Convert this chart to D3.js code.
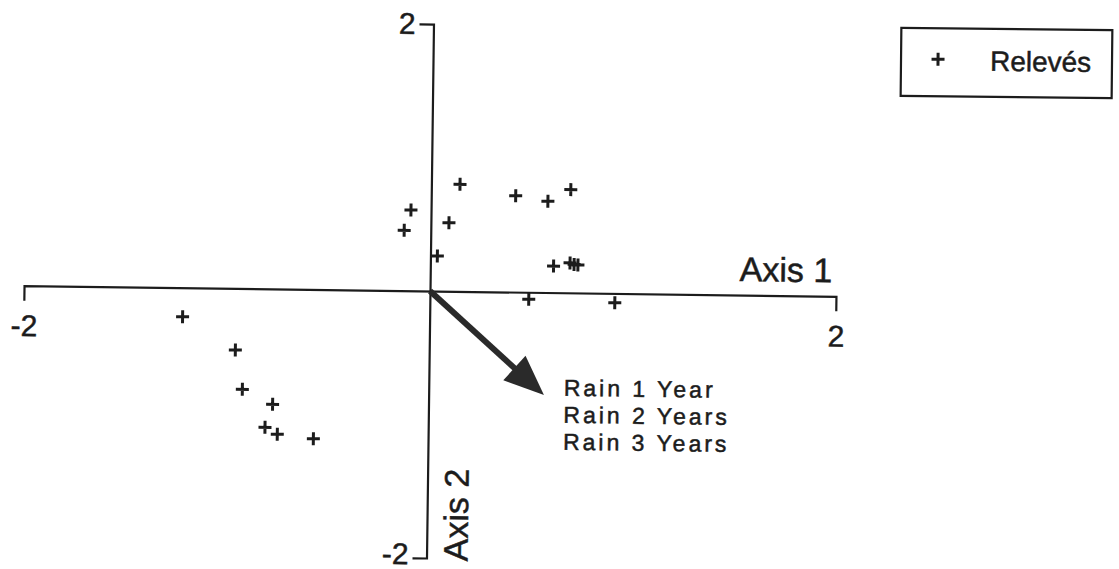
<!DOCTYPE html>
<html>
<head>
<meta charset="utf-8">
<script src="https://cdn.jsdelivr.net/npm/d3@7"></script>
<style>
  html, body { margin: 0; padding: 0; background: #fff; }
  svg { display: block; }
  text { font-family: "Liberation Sans", Arial, sans-serif; fill: #1c1c1c; stroke: #1c1c1c; stroke-width: 0.5px; }
</style>
</head>
<body>
<script>
// Site scores (relevés) on the first two ordination axes
const releveAxis1 = [0.141, -0.099, -0.131, 0.089, 0.034, 0.416, 0.575, 0.687, 0.607, 0.688, 0.708, 0.727,
                     0.487, 0.911, -1.217, -0.955, -0.918, -0.768, -0.804, -0.743, -0.565];
const releveAxis2 = [0.802, 0.605, 0.452, 0.513, 0.263, 0.722, 0.684, 0.773, 0.199, 0.224, 0.213, 0.209,
                     -0.052, -0.070, -0.217, -0.461, -0.755, -0.864, -1.037, -1.088, -1.118];

// Environmental vector (rainfall) and its labels
const rainVector = [0.568, -0.768];
const rainLabels = ["Rain 1 Year", "Rain 2 Years", "Rain 3 Years"];

// Axis extent and tick labels
const axisDomain = [-2, 2];
const tickValues = [-2, 2];
const axisTitles = ["Axis 1", "Axis 2"];
const legendLabel = "Relevés";

const W = 1119, H = 569;
const ink = "#1c1c1c";

const svg = d3.select("body").append("svg")
  .attr("width", W).attr("height", H);

const x = d3.scaleLinear().domain(axisDomain).range([24, 836]);
const y = d3.scaleLinear().domain(axisDomain).range([558, 24]);
const ox = x(0), oy = y(0);

// the whole plot sits slightly turned, as on the printed page
const plot = svg.append("g")
  .attr("transform", `rotate(0.75, ${ox}, ${oy})`);

const tickFmt = d => (d < 0 ? "-" : "") + Math.abs(d);

// Axis 1: horizontal line through the origin with end ticks pointing down
const xAxis = plot.append("g")
  .attr("transform", `translate(0, ${oy})`)
  .call(d3.axisBottom(x).tickValues(tickValues).tickFormat(tickFmt)
    .tickSizeInner(0).tickSizeOuter(15).tickPadding(29));

// Axis 2: vertical line through the origin with end ticks pointing left
const yAxis = plot.append("g")
  .attr("transform", `translate(${ox}, 0)`)
  .call(d3.axisLeft(y).tickValues(tickValues).tickFormat(tickFmt)
    .tickSizeInner(0).tickSizeOuter(14).tickPadding(18));

[xAxis, yAxis].forEach(a => {
  a.select(".domain").attr("stroke", ink).attr("stroke-width", 2.2);
  a.selectAll(".tick line").remove();
  a.selectAll(".tick text")
    .attr("fill", ink)
    .style("font-family", '"Liberation Sans", Arial, sans-serif')
    .style("font-size", "30px");
});
// keep the lowest label of Axis 2 clear of the page edge
yAxis.selectAll(".tick text").filter(d => d < 0).attr("dy", "0.2em");

// Axis titles
plot.append("text")
  .attr("x", 832).attr("y", oy - 14)
  .attr("text-anchor", "end")
  .style("font-size", "34px")
  .text(axisTitles[0]);

plot.append("text")
  .attr("transform", `translate(${ox + 41}, 561) rotate(-90)`)
  .attr("text-anchor", "start")
  .style("font-size", "34px")
  .text(axisTitles[1]);

// Rain vector: thick shaft with a filled triangular head
const tipX = x(rainVector[0]), tipY = y(rainVector[1]);
const ang = Math.atan2(tipY - oy, tipX - ox);
const headLen = 40, headHalf = 16.5;
const bx = tipX - headLen * Math.cos(ang), by = tipY - headLen * Math.sin(ang);
const px = -Math.sin(ang), py = Math.cos(ang);

plot.append("line")
  .attr("x1", ox).attr("y1", oy)
  .attr("x2", bx + 2 * Math.cos(ang)).attr("y2", by + 2 * Math.sin(ang))
  .attr("stroke", "#2a2a2a").attr("stroke-width", 6);

plot.append("path")
  .attr("d", d3.line()([
    [tipX, tipY],
    [bx + headHalf * px, by + headHalf * py],
    [bx - headHalf * px, by - headHalf * py]
  ]) + "Z")
  .attr("fill", "#2a2a2a");

plot.append("g")
  .selectAll("text")
  .data(rainLabels)
  .join("text")
  .attr("x", 565)
  .attr("y", (d, i) => 394 + i * 27)
  .style("font-size", "23px")
  .style("letter-spacing", "3px")
  .text(d => d);

// Relevés as plus markers
const cross = "M-6.5,0H6.5M0,-6.5V6.5";
plot.append("g")
  .selectAll("path")
  .data(d3.range(releveAxis1.length))
  .join("path")
  .attr("transform", i => `translate(${x(releveAxis1[i])}, ${y(releveAxis2[i])})`)
  .attr("d", cross)
  .attr("stroke", ink)
  .attr("stroke-width", 3)
  .attr("fill", "none");

// Legend
const lg = svg.append("g").attr("transform", "rotate(0.6, 1006, 63)");
lg.append("rect")
  .attr("x", 901).attr("y", 29)
  .attr("width", 211).attr("height", 68)
  .attr("fill", "none")
  .attr("stroke", ink).attr("stroke-width", 2.2);
lg.append("path")
  .attr("transform", "translate(938, 60)")
  .attr("d", cross)
  .attr("stroke", ink).attr("stroke-width", 3).attr("fill", "none");
lg.append("text")
  .attr("x", 990).attr("y", 71)
  .style("font-size", "28px")
  .text(legendLabel);
</script>
</body>
</html>
